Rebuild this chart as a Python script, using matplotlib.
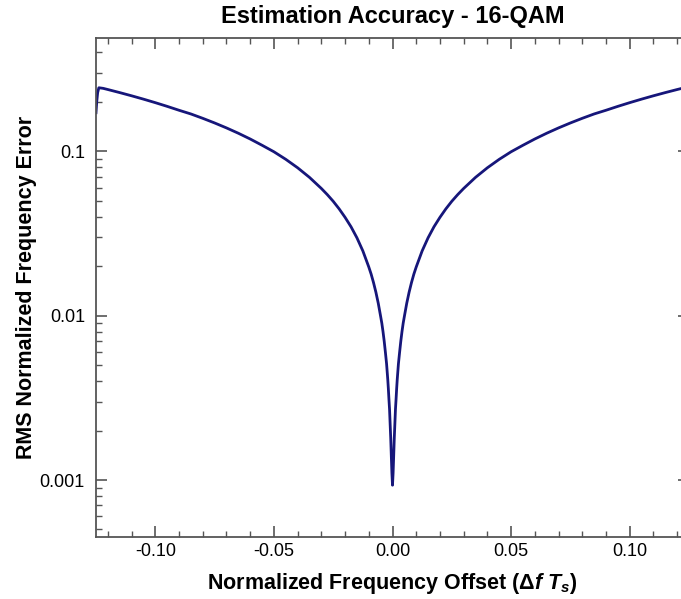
import matplotlib
matplotlib.use("Agg")
import matplotlib.pyplot as plt
from matplotlib.ticker import FixedLocator, LogLocator, MultipleLocator, NullFormatter

plt.rcParams['font.family'] = ['Liberation Sans', 'DejaVu Sans']
plt.rcParams['mathtext.fontset'] = 'custom'
plt.rcParams['mathtext.rm'] = 'Liberation Sans:bold'
plt.rcParams['mathtext.it'] = 'Liberation Sans:bold:italic'
plt.rcParams['mathtext.bf'] = 'Liberation Sans:bold'

# Data (left half, then right half)
freq_offset = [-0.125, -0.1247, -0.1243, -0.1238, -0.122, -0.12, -0.115, -0.11, -0.105,
               -0.10, -0.095, -0.09, -0.085, -0.08, -0.075, -0.07, -0.065,
               -0.06, -0.055, -0.05, -0.045, -0.04, -0.035, -0.03, -0.0275,
               -0.025, -0.0225, -0.02, -0.0175, -0.015, -0.0125, -0.01, -0.009,
               -0.008, -0.007, -0.006, -0.005, -0.0045, -0.004, -0.0035, -0.003,
               -0.0025, -0.002, -0.00175, -0.0015, -0.00125, -0.001, -0.00075,
               -0.0005, -0.00025,
               0.0,
               0.00025, 0.0005, 0.00075, 0.001, 0.00125, 0.0015, 0.00175, 0.002,
               0.0025, 0.003, 0.0035, 0.004, 0.0045, 0.005, 0.006, 0.007, 0.008,
               0.009, 0.01, 0.0125, 0.015, 0.0175, 0.02, 0.0225, 0.025, 0.0275,
               0.03, 0.035, 0.04, 0.045, 0.05, 0.055, 0.06, 0.065, 0.07, 0.075,
               0.08, 0.085, 0.09, 0.095, 0.10, 0.105, 0.11, 0.115, 0.12, 0.125]
rms_error = [0.172, 0.200, 0.228, 0.244, 0.242, 0.238, 0.228, 0.218, 0.208,
             0.198, 0.188, 0.178, 0.169, 0.159, 0.149, 0.139, 0.129,
             0.119, 0.109, 0.0995, 0.0895, 0.0795, 0.0695, 0.0595, 0.0546,
             0.0497, 0.0447, 0.0397, 0.0348, 0.0298, 0.0248, 0.0198, 0.0179,
             0.0159, 0.0139, 0.0119, 0.0099, 0.0090, 0.0080, 0.0070, 0.0060,
             0.0051, 0.0041, 0.0036, 0.0031, 0.0027, 0.0022, 0.0018,
             0.0014, 0.00110,
             0.00093,
             0.00110, 0.0014, 0.0018, 0.0022, 0.0027, 0.0031, 0.0036, 0.0041,
             0.0051, 0.0060, 0.0070, 0.0080, 0.0090, 0.0099, 0.0119, 0.0139, 0.0159,
             0.0179, 0.0198, 0.0248, 0.0298, 0.0348, 0.0397, 0.0447, 0.0497, 0.0546,
             0.0595, 0.0695, 0.0795, 0.0895, 0.0995, 0.109, 0.119, 0.129, 0.139, 0.149,
             0.159, 0.169, 0.178, 0.188, 0.198, 0.208, 0.218, 0.228, 0.238, 0.248]

x_ticks = [-0.10, -0.05, 0.00, 0.05, 0.10]
x_tick_labels = ['-0.10', '-0.05', '0.00', '0.05', '0.10']
y_ticks = [0.001, 0.01, 0.1]
y_tick_labels = ['0.001', '0.01', '0.1']

fig = plt.figure(figsize=(6.81, 5.99), dpi=100)
ax = fig.add_axes([96/681, 1-537/599, (689-96)/681, (537-38)/599])

ax.plot(freq_offset, rms_error, color='#16167a', linewidth=2.0)

ax.set_yscale('log')
ax.set_xlim(-0.125, 0.125)
ax.set_ylim(0.00045, 0.49)

ax.xaxis.set_major_locator(FixedLocator(x_ticks))
ax.set_xticklabels(x_tick_labels)
ax.xaxis.set_minor_locator(MultipleLocator(0.01))
ax.yaxis.set_major_locator(FixedLocator(y_ticks))
ax.set_yticklabels(y_tick_labels)
ax.yaxis.set_minor_locator(LogLocator(base=10, subs=[2, 3, 4, 5, 6, 7, 8, 9]))
ax.yaxis.set_minor_formatter(NullFormatter())

spine_color = '#555555'
for s in ax.spines.values():
    s.set_color(spine_color)
    s.set_linewidth(1.3)

ax.tick_params(which='major', direction='in', length=8, width=1.2, color=spine_color,
               top=True, right=True, labelsize=13)
ax.tick_params(which='minor', direction='in', length=4, width=1.0, color=spine_color,
               top=True, right=False)
ax.tick_params(axis='x', which='major', pad=4)
ax.tick_params(axis='y', which='major', pad=8)

ax.set_title('Estimation Accuracy - 16-QAM', fontsize=17, fontweight='bold', pad=11)
ax.set_xlabel(r'Normalized Frequency Offset ($\Delta \mathit{f}\ \mathit{T_s}$)',
              fontsize=15.5, fontweight='bold', labelpad=8)
ax.set_ylabel('RMS Normalized Frequency Error', fontsize=15.5, fontweight='bold', labelpad=2)

fig.savefig('out.png', dpi=100)
